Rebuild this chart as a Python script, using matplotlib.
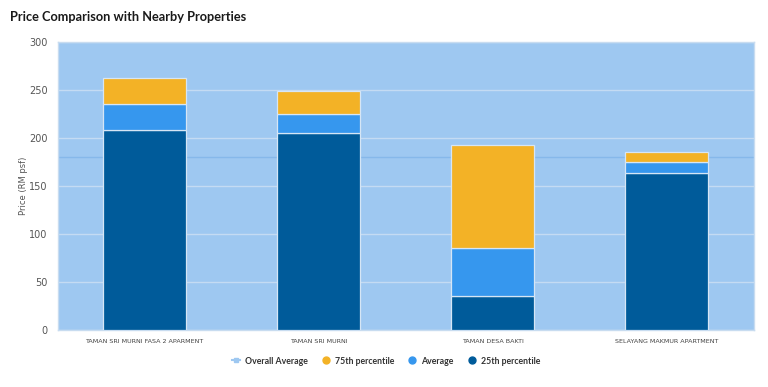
import matplotlib.pyplot as plt
from matplotlib.lines import Line2D

# --- data ---
properties = ["TAMAN SRI MURNI FASA 2 APARMENT", "TAMAN SRI MURNI",
              "TAMAN DESA BAKTI", "SELAYANG MAKMUR APARTMENT"]
p25 = [208.6, 206.0, 35.4, 163.5]
average = [236.0, 225.6, 85.4, 175.0]
p75 = [262.5, 249.0, 192.7, 185.7]
overall_average = 180.2

c25 = "#005b9a"
cavg = "#3697ee"
c75 = "#f3b226"
bg = "#9ec8f1"

fig = plt.figure(figsize=(7.68, 3.87), dpi=100)
ax = fig.add_axes([57.5 / 768, (387 - 330.3) / 387, 696 / 768, 288 / 387])
ax.set_facecolor(bg)

x = list(range(len(properties)))
w = 0.48
edge = dict(edgecolor="#d6e6f5", linewidth=0.9, zorder=3)

ax.bar(x, p25, width=w, color=c25, **edge)
ax.bar(x, [a - b for a, b in zip(average, p25)], bottom=p25, width=w, color=cavg, **edge)
ax.bar(x, [a - b for a, b in zip(p75, average)], bottom=average, width=w, color=c75, **edge)

# overall average line across the plot
ax.axhline(overall_average, color="#86b8ea", linewidth=1.0, zorder=2)

ax.set_xlim(-0.5, len(properties) - 0.5)
ax.set_ylim(0, 300)
ax.set_yticks(range(0, 301, 50))
ax.yaxis.grid(True, color="#c4dbf3", linewidth=1.0, zorder=1)
ax.set_axisbelow(True)

for s in ["top", "right", "left", "bottom"]:
    ax.spines[s].set_color("#c8dcf0")
    ax.spines[s].set_linewidth(1.0)

ax.tick_params(axis="y", length=0, pad=7, labelsize=7, labelcolor="#555555")
ax.tick_params(axis="x", length=0, pad=6, labelsize=4.6, labelcolor="#444444")
ax.set_xticks(x)
ax.set_xticklabels(properties)
ax.set_ylabel("Price (RM psf)", fontsize=6, color="#555555", labelpad=0.5)

fig.text(10 / 768, 1 - 17 / 387, "Price Comparison with Nearby Properties",
         fontsize=9.2, fontweight="bold", color="#1a1a1a", va="center",
         family="Lato")

handles = [
    Line2D([0], [0], color="#9ec8f1", linewidth=1.5, marker="s", markersize=3.5,
           markerfacecolor="#9ec8f1", markeredgecolor="#9ec8f1"),
    Line2D([0], [0], color="none", marker="o", markersize=5,
           markerfacecolor=c75, markeredgecolor=c75),
    Line2D([0], [0], color="none", marker="o", markersize=5,
           markerfacecolor=cavg, markeredgecolor=cavg),
    Line2D([0], [0], color="none", marker="o", markersize=5,
           markerfacecolor=c25, markeredgecolor=c25),
]
labels = ["Overall Average", "75th percentile", "Average", "25th percentile"]
leg = fig.legend(handles, labels, loc="center", bbox_to_anchor=(386 / 768, 1 - 361 / 387),
                 ncol=4, frameon=False, handlelength=0.9,
                 handletextpad=0.6, columnspacing=1.6,
                 prop={"family": "Lato", "size": 6.3, "weight": "bold"})
for t in leg.get_texts():
    t.set_color("#333333")

fig.savefig("out.png", dpi=100)
